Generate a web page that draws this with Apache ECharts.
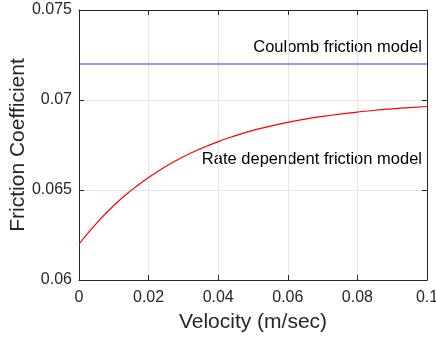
<!DOCTYPE html>
<html><head><meta charset="utf-8">
<script src="https://cdn.jsdelivr.net/npm/echarts@6/dist/echarts.min.js"></script>
<style>html,body{margin:0;padding:0;background:#fff}#c{width:436px;height:337px}</style>
</head><body><div id="c"></div>
<script>
const velocity = [0,0.005,0.01,0.015,0.02,0.025,0.03,0.035,0.04,0.045,0.05,0.055,0.06,0.065,0.07,0.075,0.08,0.085,0.09,0.095,0.1];
const rateDependent = [0.06200,0.06315,0.06414,0.06498,0.06570,0.06632,0.06685,0.06730,0.06769,0.06802,0.06831,0.06855,0.06876,0.06894,0.06909,0.06922,0.06933,0.06943,0.06951,0.06958,0.06964];
const coulombX = [0, 0.1];
const coulomb = [0.072, 0.072];
const labels = ['Coulomb friction model', 'Rate dependent friction model'];
const xTitle = 'Velocity (m/sec)';
const yTitle = 'Friction Coefficient';

const font = '"Liberation Sans", Arial, Helvetica, sans-serif';
const axisCol = '#262626';
const fmt = v => String(parseFloat(v.toFixed(4)));
const baseAxis = {
  axisLine:{show:true,onZero:false,lineStyle:{color:axisCol,width:1}},
  axisTick:{show:true,inside:true,length:5,lineStyle:{color:axisCol}},
  splitLine:{show:false}
};
const chart = echarts.init(document.getElementById('c'), null, {renderer:'canvas'});
chart.setOption({
  animation:false,
  grid:{left:79,right:9,top:10,bottom:57,containLabel:false,outerBoundsMode:'none'},
  xAxis:[
    Object.assign({}, baseAxis, {type:'value',min:0,max:0.1,interval:0.02,position:'bottom',
      name:xTitle,nameLocation:'middle',nameGap:32,nameMoveOverlap:false,
      nameTextStyle:{fontFamily:font,fontSize:21,color:axisCol},
      axisLabel:{fontFamily:font,fontSize:16,color:axisCol,margin:10,formatter:fmt},
      splitLine:{show:true,lineStyle:{color:'#e6e6e6',width:1}}}),
    Object.assign({}, baseAxis, {type:'value',min:0,max:0.1,interval:0.02,position:'top',axisLabel:{show:false}})
  ],
  yAxis:[
    Object.assign({}, baseAxis, {type:'value',min:0.06,max:0.075,interval:0.005,position:'left',
      name:yTitle,nameLocation:'middle',nameGap:50,nameMoveOverlap:false,
      nameTextStyle:{fontFamily:font,fontSize:21,color:axisCol},
      axisLabel:{fontFamily:font,fontSize:16,color:axisCol,margin:7,formatter:fmt},
      splitLine:{show:true,lineStyle:{color:'#e6e6e6',width:1}}}),
    Object.assign({}, baseAxis, {type:'value',min:0.06,max:0.075,interval:0.005,position:'right',axisLabel:{show:false}})
  ],
  series:[
    {type:'line',name:labels[0],data:coulombX.map((x,i)=>[x,coulomb[i]]),symbol:'none',
      lineStyle:{color:'#3030ff',width:1},z:3},
    {type:'line',name:labels[1],data:velocity.map((x,i)=>[x,rateDependent[i]]),symbol:'none',smooth:true,
      lineStyle:{color:'#ff0000',width:1.2},z:3}
  ],
  graphic:[
    {type:'text',right:14,top:39,style:{text:labels[0],fontFamily:font,fontSize:16.5,fill:'#000'}},
    {type:'text',right:14,top:151,style:{text:labels[1],fontFamily:font,fontSize:16.5,fill:'#000'}}
  ]
});
</script></body></html>
